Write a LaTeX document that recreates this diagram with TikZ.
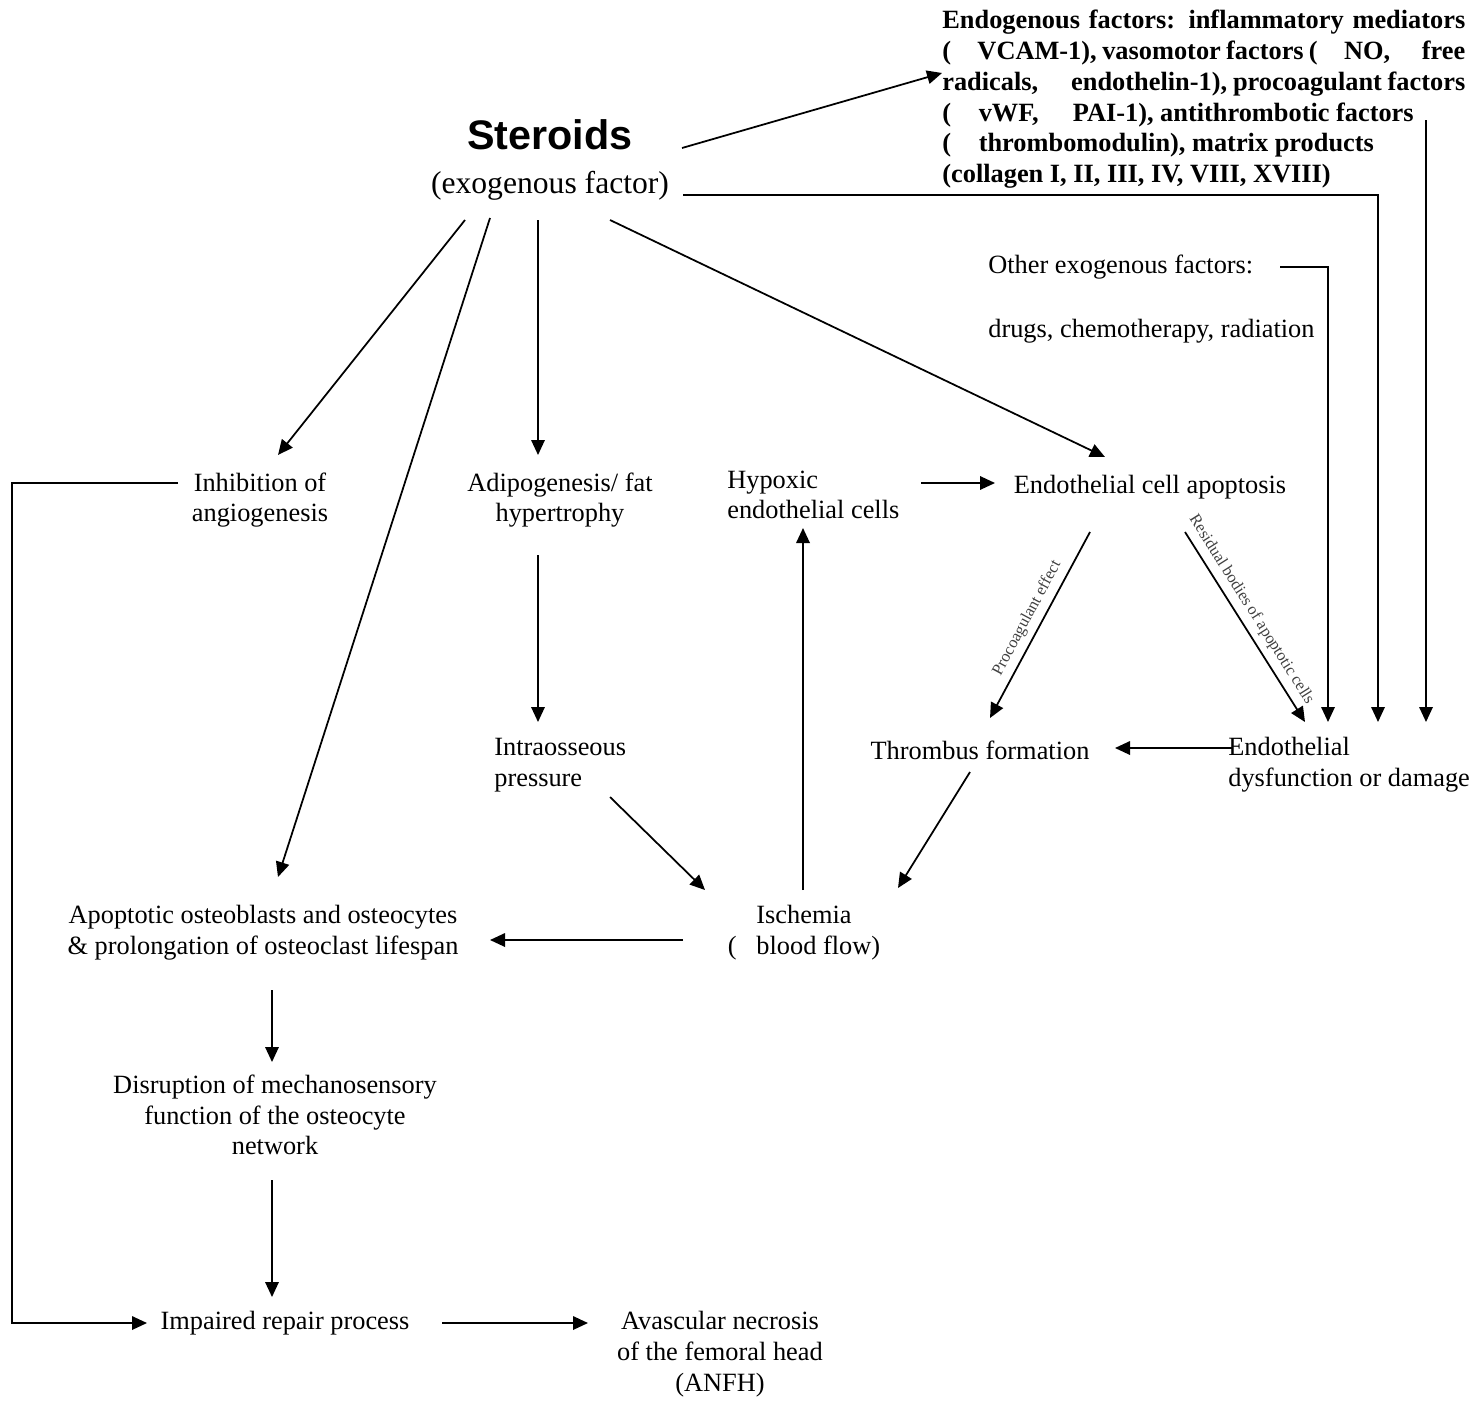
\documentclass[tikz,border=0pt]{standalone}
\usepackage{fontspec}
\setmainfont{Liberation Serif}
\newfontfamily\steroidfont{Liberation Sans}
\usetikzlibrary{positioning,calc,arrows.meta}

\begin{document}
\begin{tikzpicture}[x=0.02cm, y=-0.02cm, font=\fontsize{15}{17.5}\selectfont, line join=miter]
	\useasboundingbox (0,0) rectangle (1476,1426);
	
	% ---- styles ----
	\tikzset{txt/.style={inner sep=0pt, align=center},
		ltxt/.style={inner sep=0pt, align=left},
		flow/.style={-{Triangle[length=3mm,width=2.7mm]}, line width=1pt},
		lbl/.style={font=\fontsize{9.3}{10}\selectfont, text=black!75, inner sep=1.5pt}}
	
	% ---- top: steroids and the factors ----
	\node[txt, font=\fontsize{23.5}{26}\steroidfont\bfseries] (ster) at (550,135) {Steroids};
	\node[txt, font=\fontsize{18}{21}\selectfont] (exo) at (550,186) {(exogenous factor)};
	
	\node[ltxt, anchor=north west, font=\fontsize{15}{17.5}\selectfont\bfseries] (endo) at (942,10)
	{\makebox[10.46cm][s]{Endogenous factors: inflammatory mediators}\\
		\makebox[10.46cm][s]{(\hspace{0.8em} VCAM-1), vasomotor factors (\hspace{0.8em} NO, \hspace{0.8em} free}\\
		\makebox[10.46cm][s]{radicals, \hspace{0.8em} endothelin-1), procoagulant factors}\\
		(\hspace{0.8em} vWF, \hspace{0.8em} PAI-1), antithrombotic factors\\
		(\hspace{0.8em} thrombomodulin), matrix products\\
		(collagen I, II, III, IV, VIII, XVIII)};
	
	\node[ltxt, anchor=west] (other) at (988,299) {Other exogenous factors:\\[0.67cm] drugs, chemotherapy, radiation};
	
	% ---- middle row ----
	\node[txt] (inhib) at (260,500) {Inhibition of\\ angiogenesis};
	\node[txt] (adipo) at (560,500) {Adipogenesis/ fat\\ hypertrophy};
	\node[ltxt, anchor=west] (hypox) at (727,495) {Hypoxic\\ endothelial cells};
	\node[txt] (apopt) at (1150,487) {Endothelial cell apoptosis};
	
	\node[ltxt, anchor=west] (intra) at (494,765) {Intraosseous\\ pressure};
	\node[txt] (thromb) at (980,750) {Thrombus formation};
	\node[ltxt, anchor=west] (dysf) at (1228,765) {Endothelial\\ dysfunction or damage};
	
	\node[txt] (osteo) at (263,933) {Apoptotic osteoblasts and osteocytes\\ \& prolongation of osteoclast lifespan};
	\node[txt] (isch) at (804,933) {Ischemia\\ (\hspace{0.5em} blood flow)};
	
	% ---- bottom ----
	\node[txt] (disr) at (275,1115) {Disruption of mechanosensory\\ function of the osteocyte\\ network};
	\node[txt] (impair) at (285,1323) {Impaired repair process};
	\node[txt] (anfh) at (720,1354) {Avascular necrosis\\ of the femoral head\\ (ANFH)};
	
	% ---- arrows from the steroids ----
	\draw[flow] ($(ster)+(132,13)$) -- ($(endo.north west)+(0,63)$);
	\draw[flow] ($(exo)+(133,9)$) -| ($(dysf.west)+(150,-43)$);
	\draw[flow] ($(exo)+(-85,34)$) -- ($(inhib)+(18,-45)$);
	\draw[flow] ($(exo)+(-60,32)$) -- ($(osteo)+(15,-56)$);
	\draw[flow] ($(exo)+(-12,34)$) -- ($(adipo)+(-22,-45)$);
	\draw[flow] ($(exo)+(60,34)$) -- ($(apopt)+(-45,-30)$);
	
	% ---- right column into the dysfunction ----
	\draw[flow] ($(endo.north west)+(484,110)$) -- ($(dysf.west)+(198,-43)$);
	\draw[flow] ($(other.west)+(292,-32)$) -| ($(dysf.west)+(100,-43)$);
	\draw[flow] ($(apopt)+(35,45)$) -- ($(dysf.west)+(77,-43)$)
	node[pos=0.45, sloped, above=2pt, lbl] {Residual bodies of apoptotic cells};
	\draw[flow] ($(apopt)+(-60,45)$) -- ($(thromb)+(10,-32)$)
	node[midway, sloped, above=2pt, lbl] {Procoagulant effect};
	\draw[flow] ($(dysf.west)+(4,-17)$) -- ($(thromb)+(135,-2)$);
	
	% ---- ischemia loop ----
	\draw[flow] ($(hypox.west)+(194,-12)$) -- ($(apopt)+(-155,-4)$);
	\draw[flow] ($(isch)+(-1,-43)$) -- ($(hypox.west)+(76,33)$);
	\draw[flow] ($(adipo)+(-22,55)$) -- ($(intra.west)+(44,-43)$);
	\draw[flow] ($(intra.west)+(116,32)$) -- ($(isch)+(-99,-43)$);
	\draw[flow] ($(thromb)+(-10,22)$) -- ($(isch)+(94,-45)$);
	\draw[flow] ($(isch)+(-121,7)$) -- ($(osteo)+(227,7)$);
	
	% ---- down to the necrosis ----
	\draw[flow] ($(osteo)+(9,57)$) -- ($(disr)+(-3,-53)$);
	\draw[flow] ($(disr)+(-3,65)$) -- ($(impair)+(-13,-26)$);
	\draw[flow] ($(impair)+(157,0)$) -- ($(anfh)+(-132,-31)$);
	\draw[flow] ($(inhib)+(-82,-17)$) -- ++(-166,0) |- ($(impair)+(-138,0)$);
\end{tikzpicture}
\end{document}
